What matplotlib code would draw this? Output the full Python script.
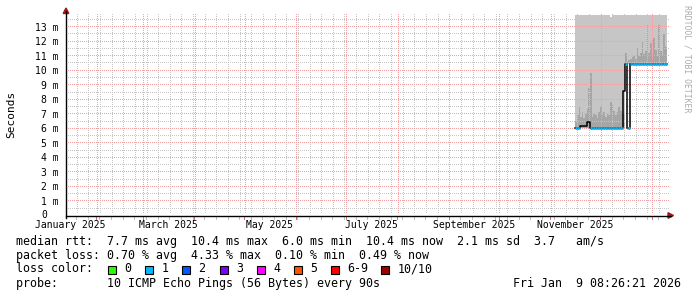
import matplotlib
matplotlib.use("Agg")
import matplotlib.pyplot as plt
from matplotlib.lines import Line2D
from matplotlib.patches import Rectangle, Polygon
import matplotlib.transforms as mtrans
import numpy as np
from datetime import date, timedelta

# ---------------- data ----------------
# x is measured in days since 2025-01-01; one bin = one day
start_day = 319
median_rtt = [6.0, 6.0, 6.0, 6.15, 6.15, 6.15, 6.15, 6.45, 6.45, 6.0,
              6.0, 6.0, 6.0, 6.0, 6.0, 6.0, 6.0, 6.0, 6.0, 6.0,
              6.0, 6.0, 6.0, 6.0, 6.0, 6.0, 6.0, 6.0, 6.0, 8.6,
              10.4, 6.0, 6.0, 10.4, 10.4, 10.4, 10.4, 10.4, 10.4, 10.4,
              10.4, 10.4, 10.4, 10.4, 10.4, 10.4, 10.4, 10.4, 10.4, 10.4,
              10.4, 10.4, 10.4, 10.4, 10.4]
median_loss = [1, 1, 1, -1, -1, -1, -1, -1, -1, 1,
               1, 1, 1, 1, 1, 1, 1, 1, 1, 1,
               1, 1, 1, 1, 1, 1, 1, 1, 1, -1,
               1, 1, 1, 1, 1, 1, 1, 1, 1, 1,
               1, 1, 1, 1, 1, 1, 1, 1, 1, 1,
               1, 1, 1, 1, 1]
smoke_low = [6.0] * 30 + [10.4] * 25
smoke_high = [13.8] * 21 + [13.65] + [13.8] * 33
smoke_dark = [6.5, 6.9, 7.45, 6.8, 7.1, 6.7, 7.0, 7.3, 8.8, 9.8,
              6.8, 7.0, 6.9, 6.7, 7.1, 7.45, 6.9, 7.1, 6.8, 7.0,
              6.9, 7.8, 7.6, 7.2, 6.9, 7.1, 7.5, 7.2, 7.0, 7.0,
              11.2, 10.6, 10.7, 10.8, 10.9, 11.0, 10.8, 11.5, 11.0, 11.2,
              12.0, 11.1, 11.3, 13.2, 11.2, 11.9, 11.0, 12.2, 11.4, 11.0,
              13.1, 11.3, 11.0, 12.5, 11.6]

y_ticks = list(range(0, 14))
y_tick_labels = ["0"] + [f"{v} m" for v in range(1, 14)]
x_label_months = [(2025, 1), (2025, 3), (2025, 5), (2025, 7), (2025, 9), (2025, 11)]
month_names = ["January", "February", "March", "April", "May", "June", "July",
               "August", "September", "October", "November", "December"]

loss_names = ["0", "1", "2", "3", "4", "5", "6-9", "10/10"]
loss_colors = ["#26ff00", "#00b8ff", "#0059ff", "#7e00ff", "#ff00ff", "#ff5500",
               "#ff0000", "#a00000"]

line1 = "median rtt:  7.7 ms avg  10.4 ms max  6.0 ms min  10.4 ms now  2.1 ms sd  3.7   am/s"
line2 = "packet loss: 0.70 % avg  4.33 % max  0.10 % min  0.49 % now"
line3 = "loss color:"
line4 = "probe:       10 ICMP Echo Pings (56 Bytes) every 90s"
stamp = "Fri Jan  9 08:26:21 2026"
watermark = "RRDTOOL / TOBI OETIKER"

# ---------------- layout ----------------
W, H = 697, 297
D0 = date(2025, 1, 1)


def dnum(d):
    return (d - D0).days


def fx(x):
    return x / W


def fy(y):
    return 1 - y / H


MONO = "DejaVu Sans Mono"
plt.rcParams["font.family"] = [MONO]

fig = plt.figure(figsize=(W / 100, H / 100), dpi=100)
fig.patch.set_facecolor("white")
ax_l, ax_r, ax_t, ax_b = 66, 668, 13, 215.5
ax = fig.add_axes([fx(ax_l), fy(ax_b), (ax_r - ax_l) / W, (ax_b - ax_t) / H])
ax.set_facecolor("white")
ax.set_xlim(12.89, 374.8)
ax.set_ylim(0, 13.94)
for s in ax.spines.values():
    s.set_visible(False)

# smoke
n = len(median_rtt)
edges = np.arange(start_day, start_day + n + 1)
ax.stairs(smoke_high, edges, baseline=smoke_low, fill=True, color="#c6c6c6", lw=0, zorder=1)
ax.stairs(smoke_dark, edges, baseline=smoke_low, fill=True, color="#a6a6a6", lw=0, zorder=2)

# grid: 1px dots every second pixel, snapped to the pixel grid, above the smoke
GRAY = "#c6c6c6"
RED = "#f0a0a0"
ident = mtrans.IdentityTransform()
dot_x = np.arange(ax_l + 1.5, ax_r, 2.0)           # display x (pixels)
dot_y = H - np.arange(ax_t + 1.5, ax_b - 1, 2.0)   # display y (pixels, from bottom)


def snap(p):
    return np.floor(p) + 0.5


def hgrid(v, col, z):
    yd = snap(ax.transData.transform((ax.get_xlim()[0], v))[1])
    ax.plot(dot_x, np.full(dot_x.shape, yd), ls="none", marker=",", color=col,
            transform=ident, zorder=z, clip_on=False)


def vgrid(v, col, z):
    xd = snap(ax.transData.transform((v, 0))[0])
    ax.plot(np.full(dot_y.shape, xd), dot_y, ls="none", marker=",", color=col,
            transform=ident, zorder=z, clip_on=False)


for v in np.arange(0.5, 14, 1.0):
    hgrid(v, GRAY, 3)
for v in range(1, 14):
    hgrid(v, RED, 4)

month_starts = []
for y in (2025, 2026):
    for m in range(1, 13):
        d = dnum(date(y, m, 1))
        if 12.89 < d < 374.8:
            month_starts.append(d)
mondays = []
d = date(2025, 1, 6)
while dnum(d) < 374.8:
    if dnum(d) > 12.89 and dnum(d) not in month_starts:
        mondays.append(dnum(d))
    d += timedelta(days=7)
for v in mondays:
    vgrid(v, GRAY, 3)
for v in month_starts:
    vgrid(v, RED, 4)

# small tick marks below x axis
tr_v = mtrans.blended_transform_factory(ax.transData, fig.transFigure)
px = 0.72
for v in mondays:
    ax.add_line(Line2D([v, v], [fy(ax_b + 1), fy(ax_b + 3.5)], transform=tr_v,
                       color="#c0c0c0", lw=px, clip_on=False))
for v in month_starts:
    ax.add_line(Line2D([v, v], [fy(ax_b + 1), fy(ax_b + 3.5)], transform=tr_v,
                       color="#e07070", lw=px, clip_on=False))

# median line: black base step, coloured per-loss segments
med_ext = list(median_rtt) + [median_rtt[-1]]
ax.step(edges, med_ext, where="post", color="black", lw=1.1, zorder=5)
for i, (v, l) in enumerate(zip(median_rtt, median_loss)):
    if l >= 0:
        ax.hlines(v, edges[i], edges[i + 1], color=loss_colors[l], lw=2.1,
                  zorder=6, capstyle="butt")

# ticks & labels
ax.set_yticks(y_ticks)
ax.set_yticklabels(y_tick_labels)
xt = []
xl = []
for (y, m) in x_label_months:
    d0 = date(y, m, 1)
    d1 = date(y + (m // 12), m % 12 + 1, 1)
    xt.append((dnum(d0) + dnum(d1)) / 2)
    xl.append(f"{month_names[m - 1]} {y}")
ax.set_xticks(xt)
ax.set_xticklabels(xl)
ax.tick_params(axis="both", length=0, labelsize=7.0, colors="black")
ax.tick_params(axis="y", pad=5.5)
ax.tick_params(axis="x", pad=3.5)
# the zero label sits in the digit column, like the reference
zl = ax.get_yticklabels()[0]
zl.set_transform(zl.get_transform() + mtrans.ScaledTranslation(-0.115, 0.01, fig.dpi_scale_trans))

# axes lines with arrows
fig.add_artist(Line2D([fx(ax_l), fx(671)], [fy(ax_b), fy(ax_b)], color="black", lw=1.0))
fig.add_artist(Line2D([fx(ax_l), fx(ax_l)], [fy(ax_b + 2), fy(11)], color="black", lw=1.0))
arrow_c = "#a01818"
fig.add_artist(Polygon([[fx(668), fy(ax_b - 2.8)], [fx(673.5), fy(ax_b)], [fx(668), fy(ax_b + 2.8)]],
                       closed=True, color=arrow_c, transform=fig.transFigure))
fig.add_artist(Polygon([[fx(ax_l - 2.8), fy(13.5)], [fx(ax_l), fy(8)], [fx(ax_l + 2.8), fy(13.5)]],
                       closed=True, color=arrow_c, transform=fig.transFigure))

# y label, watermark
fig.text(fx(11), fy(114), "Seconds", rotation=90, ha="center", va="center", fontsize=8.0)
fig.text(fx(687.5), fy(58.5), watermark, rotation=270, ha="center", va="center",
         fontsize=5.9, color="#ababab")

# legend text
LF = 8.4
fig.text(fx(16), fy(241), line1, ha="left", va="center", fontsize=LF)
fig.text(fx(16), fy(255.5), line2, ha="left", va="center", fontsize=LF)
fig.text(fx(16), fy(269), line3, ha="left", va="center", fontsize=LF)
fig.text(fx(16), fy(283.5), line4, ha="left", va="center", fontsize=LF)
fig.text(fx(681), fy(283.5), stamp, ha="right", va="center", fontsize=LF)
box_x = [108, 145.3, 182, 220, 257, 294, 331, 381]
for bx, name, col in zip(box_x, loss_names, loss_colors):
    fig.add_artist(Rectangle((fx(bx), fy(273.5)), 8 / W, 8 / H, transform=fig.transFigure,
                             facecolor=col, edgecolor="black", lw=0.8))
    fig.text(fx(bx + 16.5), fy(269), name, ha="left", va="center", fontsize=LF)

fig.savefig("out.png", dpi=100, facecolor="white")
